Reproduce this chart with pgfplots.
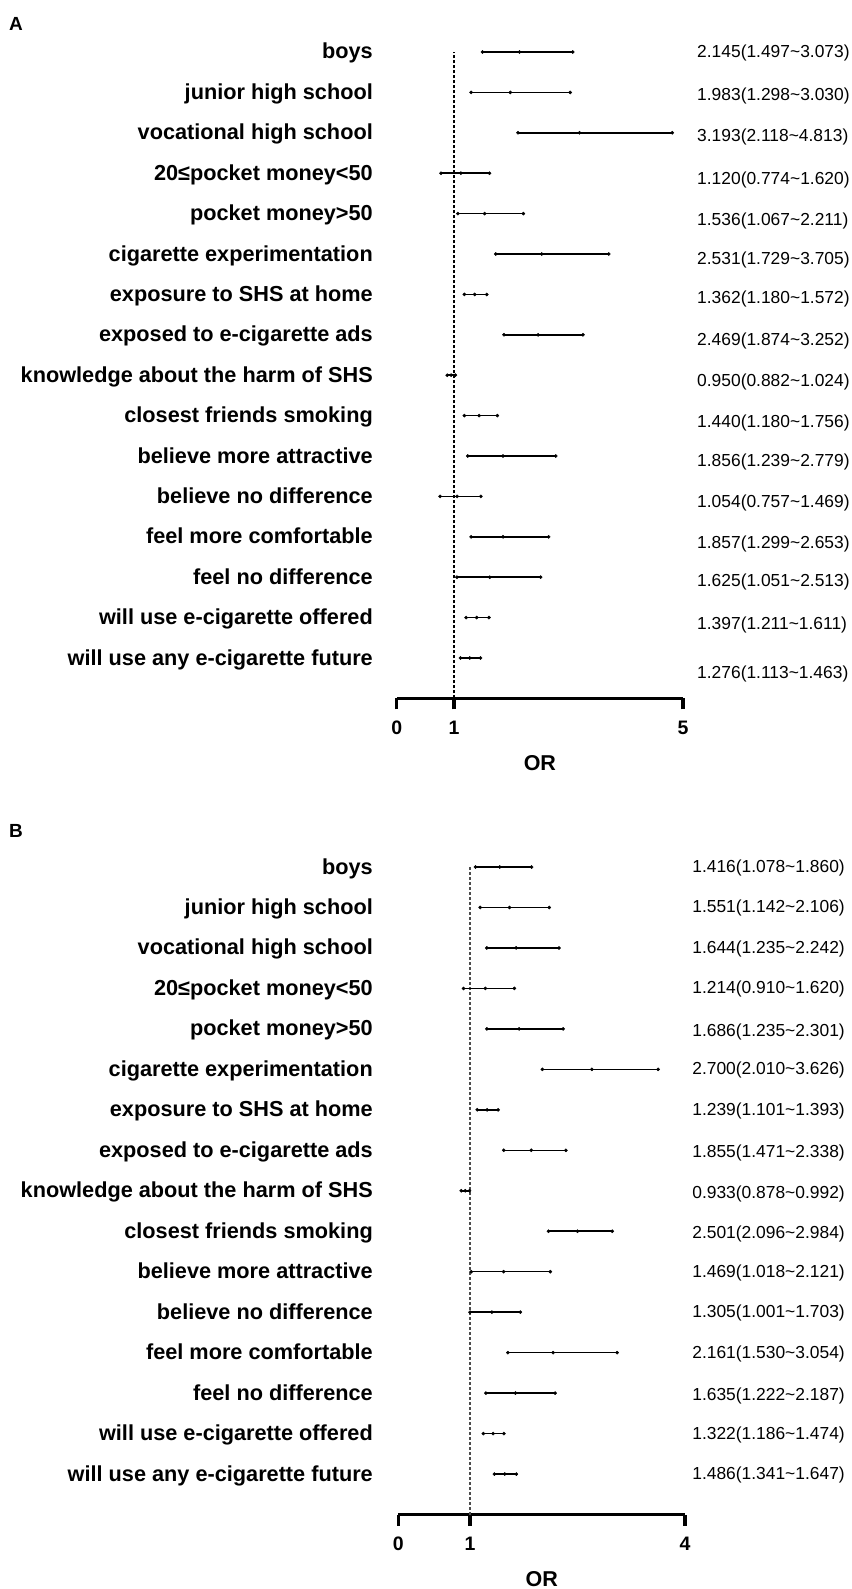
\documentclass[border=0pt]{standalone}
\usepackage{fontspec}
\setmainfont{Liberation Sans}
\usepackage{pgfplots}
\pgfplotsset{compat=1.18}
\usepackage{pgfplotstable}

% row: 16 = top (boys) ... 1 = bottom; dy = vertical offset (px) of the value text
\pgfplotstableread{
row or lo hi dy
16 2.145 1.497 3.073 1
15 1.983 1.298 3.030 4
14 3.193 2.118 4.813 4
13 1.120 0.774 1.620 7
12 1.536 1.067 2.211 7
11 2.531 1.729 3.705 6
10 1.362 1.180 1.572 5
9  2.469 1.874 3.252 6
8  0.950 0.882 1.024 7
7  1.440 1.180 1.756 7
6  1.856 1.239 2.779 6
5  1.054 0.757 1.469 7
4  1.857 1.299 2.653 7
3  1.625 1.051 2.513 5
2  1.397 1.211 1.611 7
1  1.276 1.113 1.463 16
}\tableA

\pgfplotstableread{
row or lo hi dy
16 1.416 1.078 1.860 1
15 1.551 1.142 2.106 1
14 1.644 1.235 2.242 1
13 1.214 0.910 1.620 1
12 1.686 1.235 2.301 3
11 2.700 2.010 3.626 1
10 1.239 1.101 1.393 1
9  1.855 1.471 2.338 3
8  0.933 0.878 0.992 3
7  2.501 2.096 2.984 3
6  1.469 1.018 2.121 1
5  1.305 1.001 1.703 1
4  2.161 1.530 3.054 1
3  1.635 1.222 2.187 3
2  1.322 1.186 1.474 1
1  1.486 1.341 1.647 1
}\tableB

\newcommand{\fmt}[1]{\pgfmathprintnumber[fixed,fixed zerofill,precision=3]{#1}}

\pgfplotsset{
  forest/.style={
    scale only axis, clip=false,
    axis x line=bottom, axis y line=left,
    axis line style={-},
    y axis line style={draw=none},
    x axis line style={line width=3.3pt, black},
    ymin=0, ymax=16,
    ytick={1,...,16},
    yticklabels={will use any e-cigarette future, will use e-cigarette offered, feel no difference, feel more comfortable, believe no difference, believe more attractive, closest friends smoking, knowledge about the harm of SHS, exposed to e-cigarette ads, exposure to SHS at home, cigarette experimentation, pocket money>50, 20≤pocket money<50, vocational high school, junior high school, boys},
    ytick style={draw=none},
    xtick style={line width=3.3pt, black},
    major tick length=11pt,
    tick align=outside,
    yticklabel style={font=\fontsize{21.7}{24}\selectfont\bfseries, anchor=base east, inner sep=0pt, yshift=-7pt},
    xticklabel style={font=\fontsize{19.5}{22}\selectfont\bfseries, anchor=base, inner sep=0pt, yshift=-25.4pt},
    xlabel={OR},
    xlabel style={font=\fontsize{21.5}{24}\selectfont\bfseries, at={(axis description cs:0.5,0)}, anchor=center, inner sep=0pt, yshift=-64.6pt},
    /pgf/number format/assume math mode=true,
  },
  whisk/.style={black, only marks, mark=*, mark size=1.6pt,
    error bars/.cd, x dir=both, x explicit, error mark=*,
    error mark options={black, mark size=1.6pt},
    error bar style={line width=1.5pt, black}},
  vals/.style={draw=none, mark=none,
    visualization depends on={\thisrow{or} \as \vor},
    visualization depends on={\thisrow{lo} \as \vlo},
    visualization depends on={\thisrow{hi} \as \vhi},
    nodes near coords={\fmt{\vor}(\fmt{\vlo}\textasciitilde\fmt{\vhi})},
    nodes near coords style={anchor=west, inner sep=0pt, font=\fontsize{17.4}{20}\selectfont, black}},
}

\begin{document}
\begin{tikzpicture}
\path[use as bounding box] (0,0) rectangle (851pt,-1589pt);

\node[font=\fontsize{19}{22}\selectfont\bfseries] at (16pt,-24pt) {A};
\node[font=\fontsize{19}{22}\selectfont\bfseries] at (16pt,-831pt) {B};

% ---------------- Panel A
\begin{axis}[forest, at={(396.75pt,-698.4pt)}, anchor=south west,
  width=286.25pt, height=646.4pt, xmin=0, xmax=5, xtick={0,1,5},
  yticklabel style={xshift=-12.75pt}]
  \addplot[black, line width=1.2pt, dash pattern=on 3pt off 2pt] coordinates {(1,0) (1,16)};
  \addplot[whisk] table[x=or, y=row, x error plus expr=\thisrow{hi}-\thisrow{or}, x error minus expr=\thisrow{or}-\thisrow{lo}] {\tableA};
  \addplot[vals] table[x expr=5.245, y expr=\thisrow{row}-\thisrow{dy}/40.4] {\tableA};
\end{axis}

% ---------------- Panel B
\begin{axis}[forest, at={(398.3pt,-1514.5pt)}, anchor=south west,
  width=286.7pt, height=647.5pt, xmin=0, xmax=4, xtick={0,1,4},
  yticklabel style={xshift=-14.3pt}]
  \addplot[black!70, line width=1.1pt, dash pattern=on 3pt off 2pt] coordinates {(1,0) (1,16)};
  \addplot[whisk] table[x=or, y=row, x error plus expr=\thisrow{hi}-\thisrow{or}, x error minus expr=\thisrow{or}-\thisrow{lo}] {\tableB};
  \addplot[vals] table[x expr=4.10, y expr=\thisrow{row}-\thisrow{dy}/40.47] {\tableB};
\end{axis}
\end{tikzpicture}
\end{document}
